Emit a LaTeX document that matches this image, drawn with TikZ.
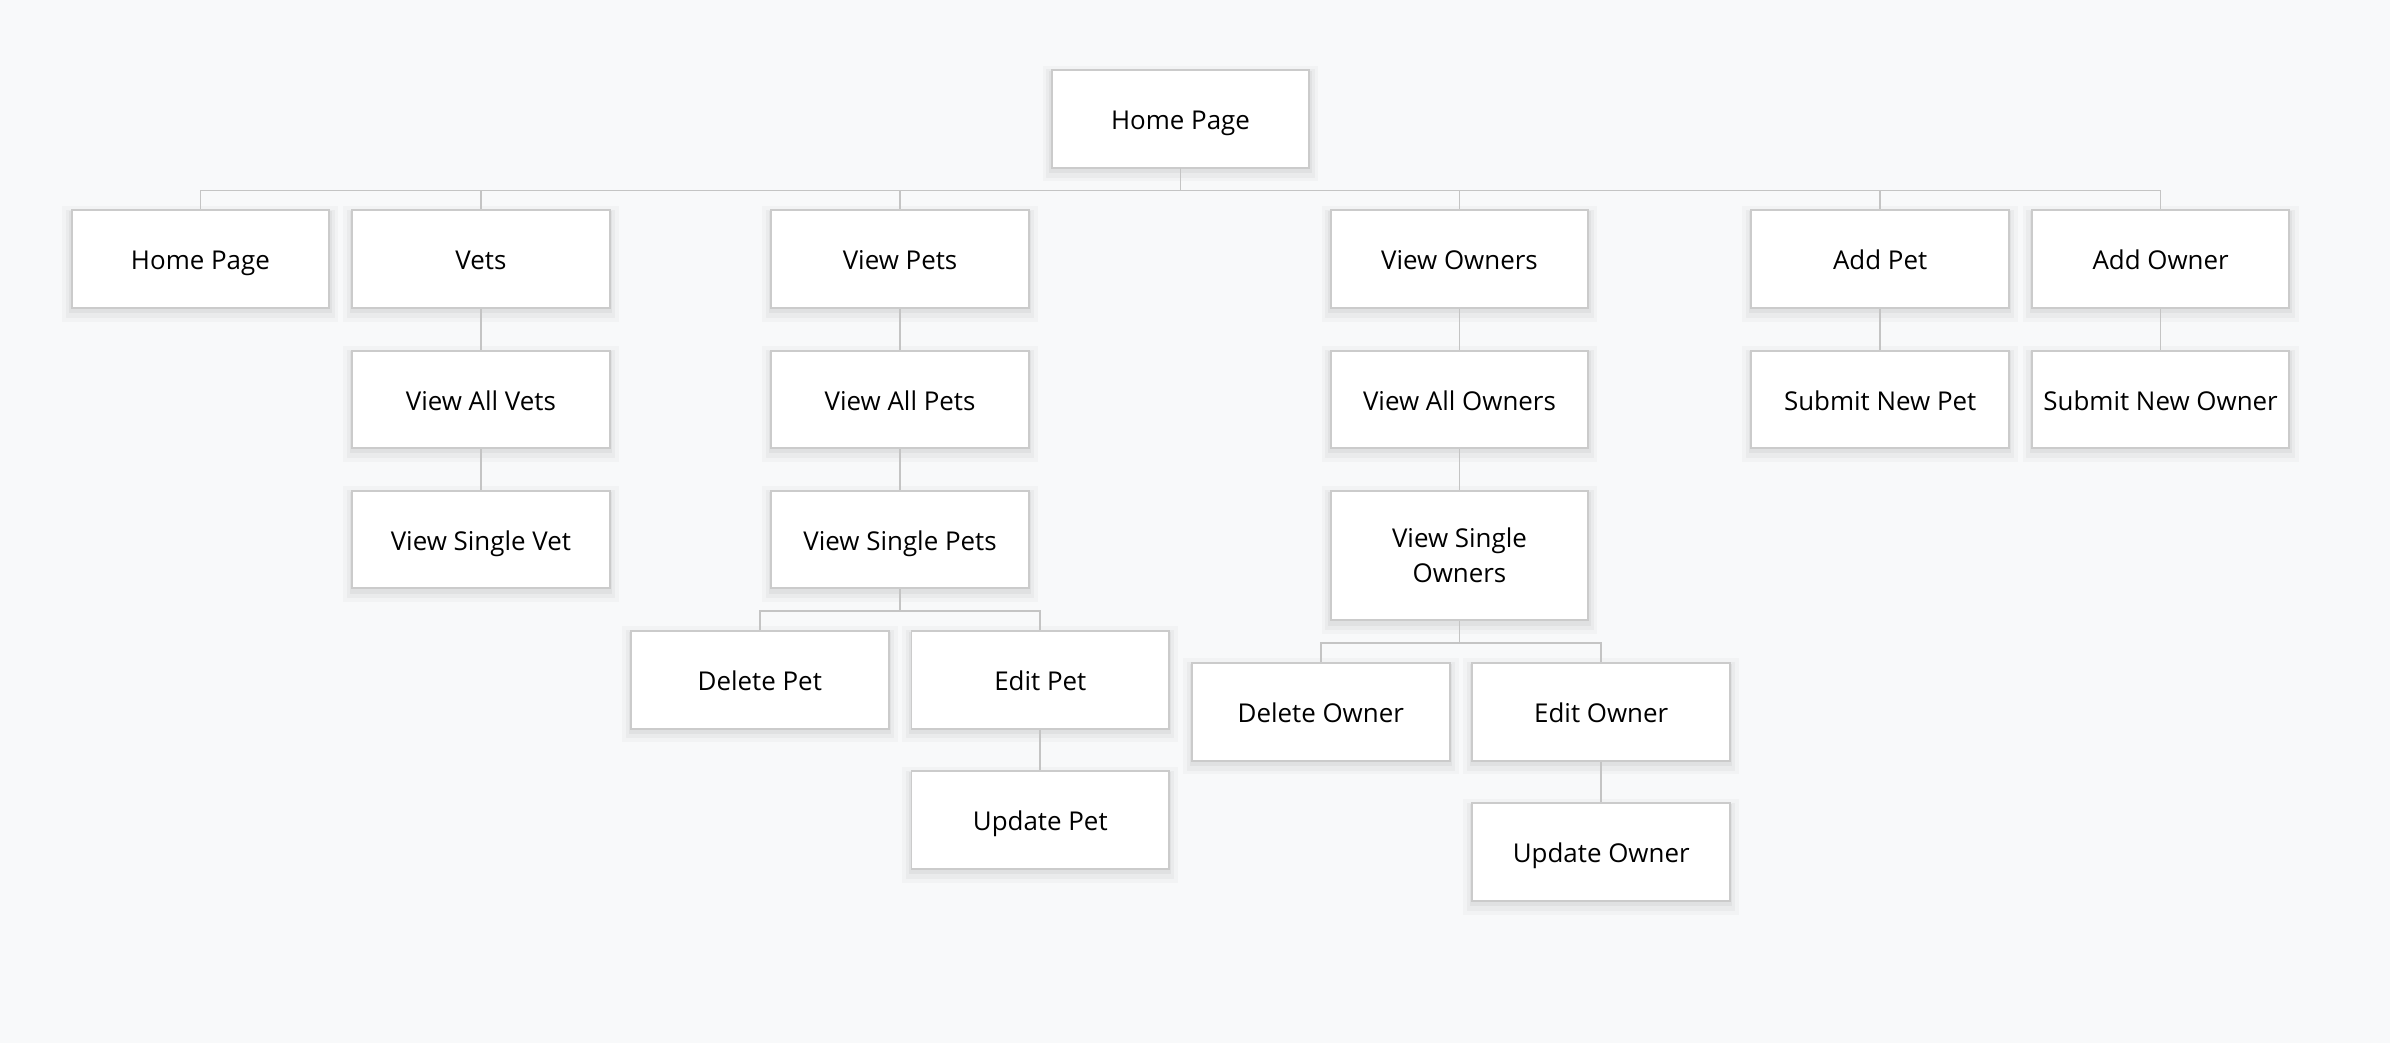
\documentclass[tikz,border=0pt]{standalone}
\usepackage{fontspec}
\setmainfont{Open Sans}
\definecolor{pagebg}{HTML}{F8F9FA}
\definecolor{boxline}{HTML}{CBCBCB}
\definecolor{wire}{HTML}{C4C4C4}
\tikzset{
  softshadow/.style={
    preaction={draw=black, draw opacity=0.025, line width=12pt, transform canvas={yshift=-3pt}},
    preaction={draw=black, draw opacity=0.03, line width=7pt, transform canvas={yshift=-3pt}},
    preaction={draw=black, draw opacity=0.04, line width=3pt, transform canvas={yshift=-2pt}}},
  pagebox/.style={softshadow, draw=boxline, line width=1.3pt, fill=white, rectangle,
    minimum width=169pt, minimum height=64pt, inner sep=0pt, align=center,
    font=\fontsize{17}{23}\selectfont, text height=14pt, text depth=0pt},
  tallbox/.style={pagebox, minimum height=85pt, text height=, text depth=},
  wire/.style={draw=wire, line width=1.1pt}
}
\begin{document}
\begin{tikzpicture}[x=1pt, y=-1pt]
  \fill[pagebg] (0,0) rectangle (1568,684);
  \useasboundingbox (0,0) rectangle (1568,684);

  % root
  \node[pagebox] (root) at (774.5,78) {Home Page};

  % first level
  \node[pagebox] (home)   at (131.5,170)  {Home Page};
  \node[pagebox] (vets)   at (315.5,170)  {Vets};
  \node[pagebox] (pets)   at (590.5,170)  {View Pets};
  \node[pagebox] (owners) at (957.5,170)  {View Owners};
  \node[pagebox] (addpet) at (1233.5,170) {Add Pet};
  \node[pagebox] (addown) at (1417.5,170) {Add Owner};

  % second level
  \node[pagebox] (allvets)   at (315.5,262)  {View All Vets};
  \node[pagebox] (allpets)   at (590.5,262)  {View All Pets};
  \node[pagebox] (allowners) at (957.5,262)  {View All Owners};
  \node[pagebox] (newpet)    at (1233.5,262) {Submit New Pet};
  \node[pagebox] (newowner)  at (1417.5,262) {Submit New Owner};

  % third level
  \node[pagebox] (onevet)   at (315.5,354) {View Single Vet};
  \node[pagebox] (onepet)   at (590.5,354) {View Single Pets};
  \node[tallbox] (oneowner) at (957.5,364.5) {\raisebox{-1.5pt}{View Single}\\\raisebox{-1.5pt}{Owners}};

  % pet actions
  \node[pagebox] (delpet)  at (498.5,446) {Delete Pet};
  \node[pagebox] (editpet) at (682.5,446) {Edit Pet};
  \node[pagebox] (updpet)  at (682.5,538) {Update Pet};

  % owner actions
  \node[pagebox] (delown)  at (866.5,467)  {Delete Owner};
  \node[pagebox] (editown) at (1050.5,467) {Edit Owner};
  \node[pagebox] (updown)  at (1050.5,559) {Update Owner};

  % bus levels
  \coordinate (busroot)  at (0,125);
  \coordinate (buspet)   at (0,401);
  \coordinate (busowner) at (0,422);

  % root to first level
  \foreach \c in {home,vets,pets,owners,addpet,addown}
    \draw[wire] (root.south) -- (root.south |- busroot) -| (\c.north);

  % straight chains
  \draw[wire] (vets.south) -- (allvets.north);
  \draw[wire] (allvets.south) -- (onevet.north);
  \draw[wire] (pets.south) -- (allpets.north);
  \draw[wire] (allpets.south) -- (onepet.north);
  \draw[wire] (owners.south) -- (allowners.north);
  \draw[wire] (allowners.south) -- (oneowner.north);
  \draw[wire] (addpet.south) -- (newpet.north);
  \draw[wire] (addown.south) -- (newowner.north);
  \draw[wire] (editpet.south) -- (updpet.north);
  \draw[wire] (editown.south) -- (updown.north);

  % branching
  \foreach \c in {delpet,editpet}
    \draw[wire] (onepet.south) -- (onepet.south |- buspet) -| (\c.north);
  \foreach \c in {delown,editown}
    \draw[wire] (oneowner.south) -- (oneowner.south |- busowner) -| (\c.north);
\end{tikzpicture}
\end{document}
